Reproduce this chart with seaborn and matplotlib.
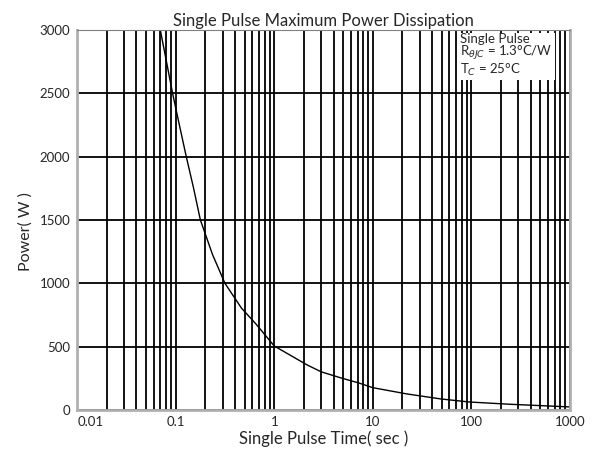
import matplotlib
matplotlib.use("Agg")
import matplotlib.pyplot as plt
import seaborn as sns
import pandas as pd
from matplotlib.ticker import LogLocator, FixedLocator, NullFormatter

pulse_time = [0.0698, 0.0806, 0.093, 0.109, 0.128, 0.151, 0.178, 0.237, 0.316, 0.464, 0.65,
              1.0, 2.15, 3.0, 4.75, 7.15, 10.0, 22.0, 49.0, 95.0, 246.0, 1000.0]
power_w = [3000, 2750, 2500, 2250, 2000, 1760, 1500, 1225, 1000, 805, 680,
           505, 356, 301, 253, 214, 176, 127, 87, 63, 45, 24]
x_tick_labels = ["0.01", "0.1", "1", "10", "100", "1000"]
x_tick_values = [0.01, 0.1, 1, 10, 100, 1000]
y_tick_values = [0, 500, 1000, 1500, 2000, 2500, 3000]

df = pd.DataFrame({"t": pulse_time, "P": power_w})

sns.set_style("white")
plt.rcParams["font.family"] = ["Lato", "DejaVu Sans"]

fig = plt.figure(figsize=(5.98, 4.54), dpi=100)
ax = fig.add_axes([0.129, 0.097, 0.824, 0.837])

ax.set_xscale("log")
ax.set_xlim(0.01, 1000)
ax.set_ylim(0, 3000)

ax.xaxis.set_major_locator(FixedLocator(x_tick_values))
ax.set_xticklabels(x_tick_labels)
ax.xaxis.set_minor_locator(LogLocator(base=10, subs=range(2, 10), numticks=50))
ax.xaxis.set_minor_formatter(NullFormatter())
ax.set_yticks(y_tick_values)

ax.grid(True, which="major", axis="both", color="black", linewidth=1.3)
ax.grid(True, which="minor", axis="x", color="black", linewidth=1.3)
ax.set_axisbelow(True)

sns.lineplot(data=df, x="t", y="P", ax=ax, color="black", linewidth=1.0)

for s in ["left", "bottom", "right"]:
    ax.spines[s].set_color("#b0b0b0")
    ax.spines[s].set_linewidth(2)
ax.spines["top"].set_color("#808080")
ax.spines["top"].set_linewidth(0.8)

ax.tick_params(axis="x", length=0, labelsize=9.5, pad=4)
ax.tick_params(axis="y", length=3, width=0.8, color="#404040", labelsize=9.5, pad=2)
first = ax.get_xticklabels()[0]
first.set_horizontalalignment("left")

ax.set_xlabel("Single Pulse Time( sec )", fontsize=12, labelpad=2)
ax.set_ylabel("Power( W )", fontsize=11.5, labelpad=6)
ax.yaxis.set_label_coords(-0.09, 0.47)
ax.set_title("Single Pulse Maximum Power Dissipation", fontsize=12, pad=3)

ax.text(0.777, 0.992, "Single Pulse\nR$_{\\theta JC}$ = 1.3°C/W\nT$_C$ = 25°C",
        transform=ax.transAxes, ha="left", va="top", fontsize=9.5, linespacing=0.95,
        bbox=dict(facecolor="white", edgecolor="none", pad=1.5))

fig.savefig("out.png", dpi=100)
